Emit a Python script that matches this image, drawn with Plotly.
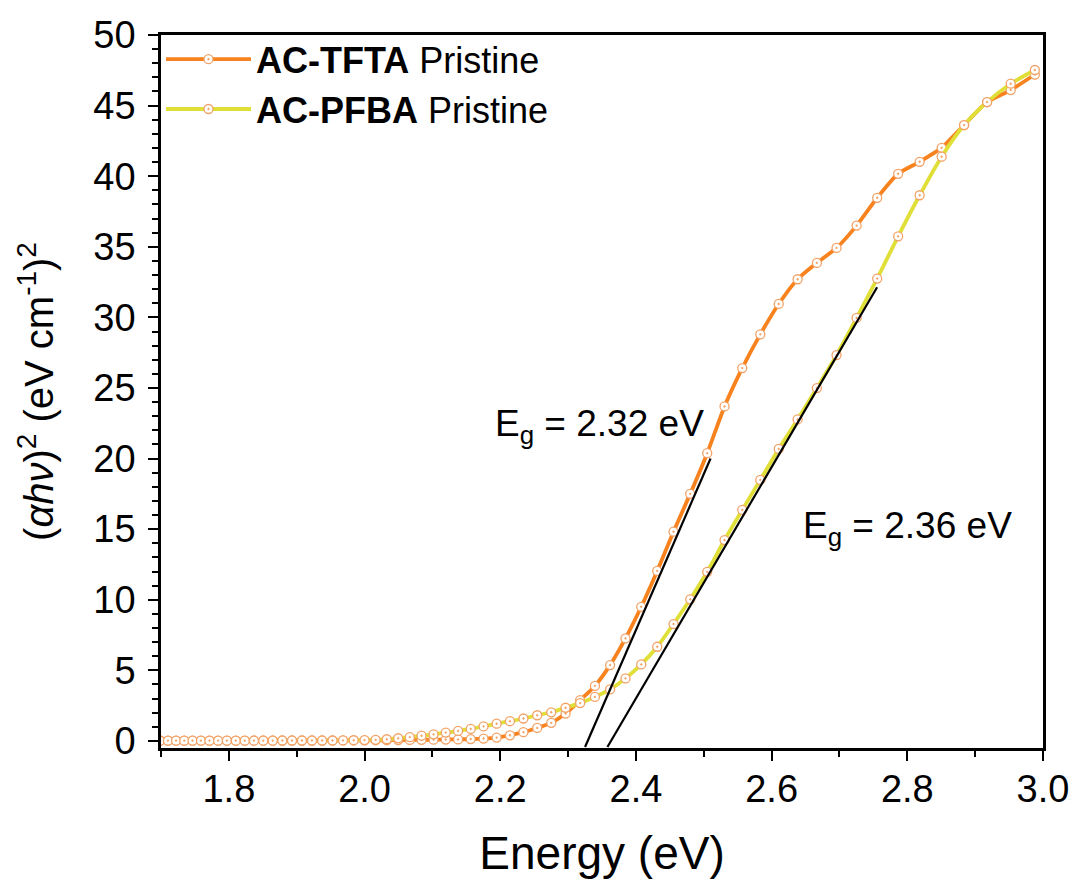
import plotly.graph_objects as go

# Photon energy (eV) of each sample point (5 nm steps, 730 nm -> 415 nm)
energy_ev = [1.6986, 1.7103, 1.7222, 1.7343, 1.7465, 1.7589, 1.7714, 1.7842,
             1.7971, 1.8102, 1.8235, 1.8370, 1.8507, 1.8647, 1.8788, 1.8931,
             1.9077, 1.9225, 1.9375, 1.9528, 1.9683, 1.9840, 2.0000, 2.0163,
             2.0328, 2.0496, 2.0667, 2.0840, 2.1017, 2.1197, 2.1379, 2.1565,
             2.1754, 2.1947, 2.2143, 2.2342, 2.2545, 2.2752, 2.2963, 2.3178,
             2.3396, 2.3619, 2.3846, 2.4078, 2.4314, 2.4554, 2.4800, 2.5051,
             2.5306, 2.5567, 2.5833, 2.6105, 2.6383, 2.6667, 2.6957, 2.7253,
             2.7556, 2.7865, 2.8182, 2.8506, 2.8837, 2.9176, 2.9524, 2.9880]

# (alpha h nu)^2 for AC-TFTA Pristine
tfta = [0.02, 0.02, 0.02, 0.02, 0.02, 0.02, 0.02, 0.02,
        0.02, 0.02, 0.02, 0.03, 0.03, 0.03, 0.03, 0.03,
        0.03, 0.03, 0.03, 0.04, 0.04, 0.04, 0.04, 0.05,
        0.05, 0.06, 0.07, 0.08, 0.09, 0.10, 0.11, 0.13,
        0.17, 0.24, 0.40, 0.62, 0.92, 1.28, 1.94, 2.89,
        3.90, 5.37, 7.26, 9.50, 12.04, 14.82, 17.50, 20.38,
        23.69, 26.41, 28.80, 30.95, 32.70, 33.86, 34.92, 36.50,
        38.47, 40.17, 41.02, 42.01, 43.62, 45.25, 46.10, 47.20]

# (alpha h nu)^2 for AC-PFBA Pristine
pfba = [0.02, 0.02, 0.02, 0.02, 0.02, 0.02, 0.02, 0.02,
        0.02, 0.02, 0.02, 0.02, 0.02, 0.02, 0.03, 0.03,
        0.03, 0.03, 0.03, 0.03, 0.04, 0.05, 0.06, 0.08,
        0.12, 0.19, 0.27, 0.37, 0.47, 0.59, 0.71, 0.85,
        1.03, 1.22, 1.40, 1.59, 1.82, 2.03, 2.35, 2.68,
        3.12, 3.65, 4.43, 5.42, 6.67, 8.28, 10.03, 11.98,
        14.23, 16.36, 18.49, 20.68, 22.77, 24.99, 27.33, 29.96,
        32.75, 35.74, 38.65, 41.38, 43.62, 45.25, 46.55, 47.52]

series_names = ["<b>AC-TFTA</b> Pristine", "<b>AC-PFBA</b> Pristine"]

# Tauc tangent lines (end points)
tangent_tfta_x = [2.325, 2.510]
tangent_tfta_y = [-0.43, 20.0]
tangent_pfba_x = [2.358, 2.7555]
tangent_pfba_y = [-0.43, 32.13]

gap_labels = ["E<sub>g</sub> = 2.32 eV", "E<sub>g</sub> = 2.36 eV"]
gap_label_x = [2.346, 2.801]
gap_label_y = [22.3, 15.1]

FONT = "Arial, Liberation Sans, Helvetica, sans-serif"
ORANGE = "#F7821E"
YELLOW = "#E0DF37"
MARKER_EDGE = "#F2A266"

fig = go.Figure()

for name, yvals, col in [(series_names[0], tfta, ORANGE), (series_names[1], pfba, YELLOW)]:
    fig.add_trace(go.Scatter(
        x=energy_ev, y=yvals, name=name, mode="lines+markers",
        line=dict(color=col, width=3.8, shape="spline", smoothing=0.6),
        marker=dict(symbol="circle-dot", size=9, color="white",
                    line=dict(color=MARKER_EDGE, width=1.3)),
    ))

for tx, ty in [(tangent_tfta_x, tangent_tfta_y), (tangent_pfba_x, tangent_pfba_y)]:
    fig.add_trace(go.Scatter(x=tx, y=ty, mode="lines", showlegend=False,
                             line=dict(color="black", width=2.2)))

for txt, ax_, ay_ in zip(gap_labels, gap_label_x, gap_label_y):
    fig.add_annotation(x=ax_, y=ay_, text=txt, showarrow=False,
                       font=dict(family=FONT, size=37, color="black"))

axis_common = dict(
    showline=True, linecolor="black", linewidth=2.5, mirror=True,
    ticks="outside", ticklen=10, tickwidth=2, tickcolor="black",
    showgrid=False, zeroline=False,
    tickfont=dict(family=FONT, size=38, color="black"),
)

fig.update_xaxes(
    range=[1.7, 3.0], dtick=0.2, tick0=1.8, tickformat=".1f",
    ticklabelstandoff=-4,
    minor=dict(dtick=0.1, ticklen=6, tickwidth=2, tickcolor="black", ticks="outside"),
    title=dict(text="Energy (eV)", font=dict(family=FONT, size=46, color="black"), standoff=28),
    **axis_common,
)
fig.update_yaxes(
    range=[-0.5, 50], dtick=5, tick0=0,
    ticklabelstandoff=5,
    minor=dict(dtick=1, ticklen=6, tickwidth=2, tickcolor="black", ticks="outside"),
    title=dict(text="(<i>αhν</i>)<sup>2</sup> (eV cm<sup>-1</sup>)<sup>2</sup>",
               font=dict(family=FONT, size=40, color="black"), standoff=28),
    **axis_common,
)

fig.update_layout(
    width=1081, height=890,
    margin=dict(l=161, r=32, t=35, b=142),
    paper_bgcolor="white", plot_bgcolor="white",
    showlegend=True,
    legend=dict(x=0.0, y=1.008, xanchor="left", yanchor="top",
                bgcolor="rgba(0,0,0,0)", borderwidth=0,
                font=dict(family=FONT, size=36, color="black"),
                itemwidth=85, tracegroupgap=0),
)

fig.write_html("out.html")
